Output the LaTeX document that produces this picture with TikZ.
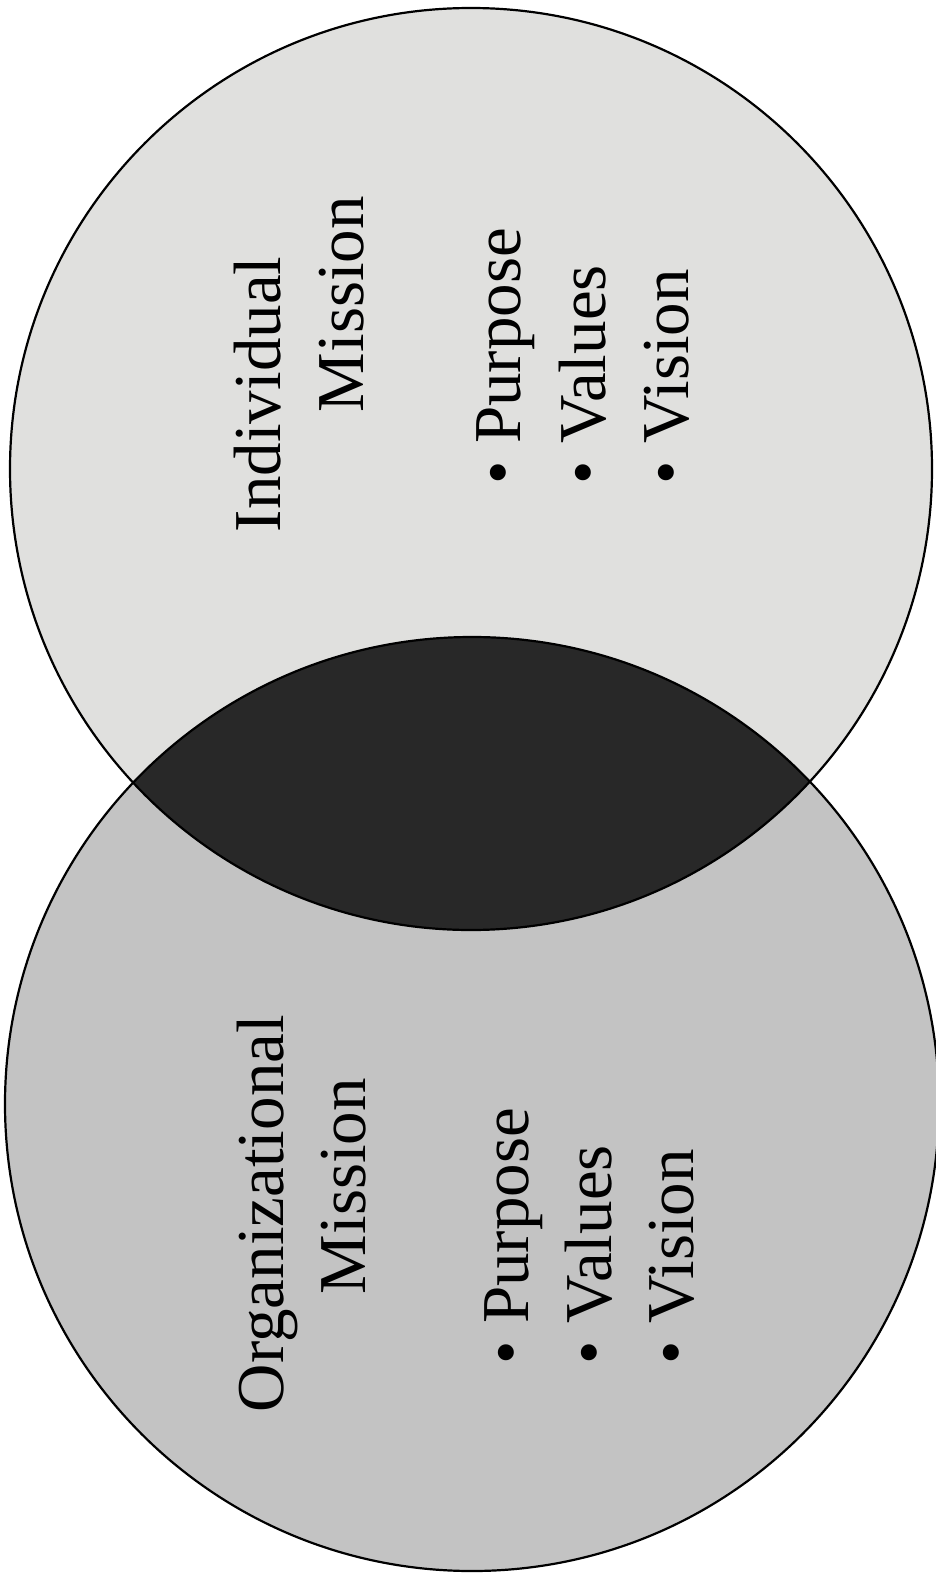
\documentclass[tikz,border=0pt]{standalone}
\usepackage{fontspec}
\setmainfont{Liberation Serif}
\definecolor{topgray}{HTML}{E0E0DE}
\definecolor{botgray}{HTML}{C3C3C3}
\definecolor{lensgray}{HTML}{282828}
\tikzset{
  lbl/.style={rotate=90, anchor=base west, inner sep=0pt, outer sep=0pt,
              font=\fontsize{67}{80}\selectfont, text=black},
  ring/.style={draw=black, line width=2.2pt}
}
\begin{document}
\begin{tikzpicture}[x=1pt, y=-1pt]
\useasboundingbox[fill=white] (0,0) rectangle (936,1573);
\coordinate (c1) at (471,469);
\coordinate (c2) at (472,1104);
% fills
\fill[topgray] (c1) circle[radius=461pt];
\fill[botgray] (c2) circle[radius=467pt];
\begin{scope}
  \clip (c1) circle[radius=461pt];
  \fill[lensgray] (c2) circle[radius=467pt];
\end{scope}
% outlines
\draw[ring] (c1) circle[radius=461pt];
\draw[ring] (c2) circle[radius=467pt];
% top circle texts
\node[lbl] (ind) at (280,532) {Individual};
\node[lbl] (imis) at (363,412) {Mission};
\node[lbl] (ipur) at (520,484) {\textbullet\ Purpose};
\node[lbl] (ival) at (605,484) {\textbullet\ Values};
\node[lbl] (ivis) at (688,484) {\textbullet\ Vision};
% bottom circle texts
\node[lbl] (org) at (283,1412) {Organizational};
\node[lbl] (omis) at (365,1294) {Mission};
\node[lbl] (opur) at (528,1364) {\textbullet\ Purpose};
\node[lbl] (oval) at (611,1364) {\textbullet\ Values};
\node[lbl] (ovis) at (693,1364) {\textbullet\ Vision};
\end{tikzpicture}
\end{document}
